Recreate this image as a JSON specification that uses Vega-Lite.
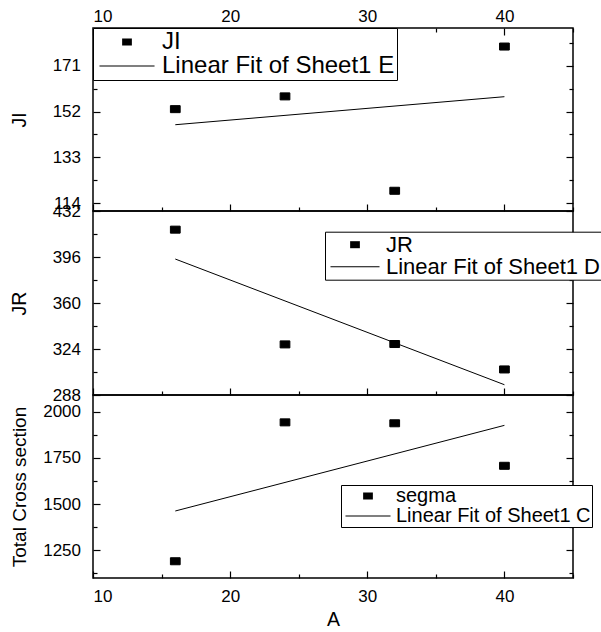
{
  "$schema": "https://vega.github.io/schema/vega-lite/v6.json",
  "background": "white",
  "padding": {"left": 8, "top": 6, "right": 0, "bottom": 4},
  "spacing": 0,
  "bounds": "flush",
  "datasets": {
    "ji": [
      {"A": 16, "JI": 153.0, "series": "JI"},
      {"A": 24, "JI": 158.3, "series": "JI"},
      {"A": 32, "JI": 119.1, "series": "JI"},
      {"A": 40, "JI": 179.0, "series": "JI"}
    ],
    "jr": [
      {"A": 16, "JR": 417.4, "series": "JR"},
      {"A": 24, "JR": 327.6, "series": "JR"},
      {"A": 32, "JR": 327.9, "series": "JR"},
      {"A": 40, "JR": 308.0, "series": "JR"}
    ],
    "segma": [
      {"A": 16, "C": 1190.6, "series": "segma"},
      {"A": 24, "C": 1942.0, "series": "segma"},
      {"A": 32, "C": 1937.0, "series": "segma"},
      {"A": 40, "C": 1707.0, "series": "segma"}
    ]
  },
  "resolve": {
    "scale": {"y": "independent", "shape": "independent"},
    "legend": {"shape": "independent"}
  },
  "vconcat": [
    {
      "width": 480,
      "height": 183,
      "data": {"name": "ji"},
      "layer": [
        {
          "mark": {"type": "point", "filled": false, "fill": "black", "stroke": "black", "strokeWidth": 1, "opacity": 1, "size": 95},
          "encoding": {
            "x": {
              "field": "A", "type": "quantitative",
              "scale": {"domain": [10, 45], "nice": false, "zero": false},
              "axis": {
                "orient": "top", "title": null,
                "values": [10, 15, 20, 25, 30, 35, 40, 45],
                "labelExpr": "datum.value % 10 == 0 ? datum.label : ''",
                "tickSize": {"condition": {"test": "datum.value % 10 == 0", "value": -7}, "value": -4},
                "labelPadding": 10
              }
            },
            "y": {
              "field": "JI", "type": "quantitative",
              "scale": {"domain": [110.7, 186.7], "nice": false, "zero": false},
              "axis": {
                "orient": "left", "title": "JI", "titleX": -68, "titleBaseline": "alphabetic",
                "values": [114, 123.5, 133, 142.5, 152, 161.5, 171, 180.5],
                "labelExpr": "datum.value % 19 == 0 ? datum.label : ''",
                "tickSize": {"condition": {"test": "datum.value % 19 == 0", "value": -7}, "value": -4},
                "labelPadding": 19.5
              }
            },
            "shape": {
              "field": "series", "type": "nominal",
              "scale": {"domain": ["JI", "Linear Fit of Sheet1 E"], "range": ["M-1,-0.72L1,-0.72L1,0.72L-1,0.72Z", "M-5.65,-0.1L5.65,-0.1L5.65,0.1L-5.65,0.1Z"]},
              "legend": {
                "title": null, "legendX": 0, "legendY": 0, "labelFontSize": 24, "padding": 2,
                "symbolOffset": 20, "labelOffset": 23, "rowPadding": -3
              }
            }
          }
        },
        {
          "transform": [{"regression": "JI", "on": "A"}],
          "mark": {"type": "line", "color": "black", "strokeWidth": 1},
          "encoding": {
            "x": {
              "field": "A", "type": "quantitative",
              "axis": {
                "orient": "bottom", "title": null, "labels": false,
                "values": [10, 15, 20, 25, 30, 35, 40, 45],
                "tickSize": {"condition": {"test": "datum.value % 10 == 0", "value": -7}, "value": -4}
              }
            },
            "y": {
              "field": "JI", "type": "quantitative",
              "axis": {
                "orient": "right", "title": null, "labels": false,
                "values": [114, 123.5, 133, 142.5, 152, 161.5, 171, 180.5],
                "tickSize": {"condition": {"test": "datum.value % 19 == 0", "value": -7}, "value": -4}
              }
            }
          }
        }
      ],
      "resolve": {"axis": {"x": "independent", "y": "independent"}}
    },
    {
      "width": 480,
      "height": 184,
      "data": {"name": "jr"},
      "layer": [
        {
          "mark": {"type": "point", "filled": false, "fill": "black", "stroke": "black", "strokeWidth": 1, "opacity": 1, "size": 95},
          "encoding": {
            "x": {
              "field": "A", "type": "quantitative",
              "scale": {"domain": [10, 45], "nice": false, "zero": false},
              "axis": null
            },
            "y": {
              "field": "JR", "type": "quantitative",
              "scale": {"domain": [288, 432], "nice": false, "zero": false},
              "axis": {
                "orient": "left", "title": "JR", "titleX": -68, "titleBaseline": "alphabetic",
                "values": [288, 306, 324, 342, 360, 378, 396, 414, 432],
                "labelExpr": "datum.value % 36 == 0 ? datum.label : ''",
                "tickSize": {"condition": {"test": "datum.value % 36 == 0", "value": -7}, "value": -4},
                "labelPadding": 19.5
              }
            },
            "shape": {
              "field": "series", "type": "nominal",
              "scale": {"domain": ["JR", "Linear Fit of Sheet1 D"], "range": ["M-1,-0.72L1,-0.72L1,0.72L-1,0.72Z", "M-5.03,-0.1L5.03,-0.1L5.03,0.1L-5.03,0.1Z"]},
              "legend": {
                "title": null, "legendX": 232, "legendY": 20.7, "labelFontSize": 22, "padding": 2,
                "symbolOffset": 17, "labelOffset": 20, "rowPadding": -2
              }
            }
          }
        },
        {
          "transform": [{"regression": "JR", "on": "A"}],
          "mark": {"type": "line", "color": "black", "strokeWidth": 1},
          "encoding": {
            "x": {
              "field": "A", "type": "quantitative",
              "axis": {
                "orient": "bottom", "title": null, "labels": false,
                "values": [10, 15, 20, 25, 30, 35, 40, 45],
                "tickSize": {"condition": {"test": "datum.value % 10 == 0", "value": -7}, "value": -4}
              }
            },
            "y": {
              "field": "JR", "type": "quantitative",
              "axis": {
                "orient": "right", "title": null, "labels": false,
                "values": [288, 306, 324, 342, 360, 378, 396, 414, 432],
                "tickSize": {"condition": {"test": "datum.value % 36 == 0", "value": -7}, "value": -4}
              }
            }
          }
        }
      ],
      "resolve": {"axis": {"x": "independent", "y": "independent"}}
    },
    {
      "width": 480,
      "height": 183,
      "data": {"name": "segma"},
      "layer": [
        {
          "mark": {"type": "point", "filled": false, "fill": "black", "stroke": "black", "strokeWidth": 1, "opacity": 1, "size": 95},
          "encoding": {
            "x": {
              "field": "A", "type": "quantitative",
              "scale": {"domain": [10, 45], "nice": false, "zero": false},
              "axis": null
            },
            "y": {
              "field": "C", "type": "quantitative",
              "scale": {"domain": [1100, 2090], "nice": false, "zero": false},
              "axis": {
                "orient": "left", "title": "Total Cross section", "titleX": -68, "titleBaseline": "alphabetic",
                "titleFontSize": 19,
                "values": [1125, 1250, 1375, 1500, 1625, 1750, 1875, 2000],
                "labelExpr": "datum.value % 250 == 0 ? datum.label : ''",
                "format": "d",
                "tickSize": {"condition": {"test": "datum.value % 250 == 0", "value": -7}, "value": -4},
                "labelPadding": 19.5
              }
            },
            "shape": {
              "field": "series", "type": "nominal",
              "scale": {"domain": ["segma", "Linear Fit of Sheet1 C"], "range": ["M-1,-0.72L1,-0.72L1,0.72L-1,0.72Z", "M-4.62,-0.1L4.62,-0.1L4.62,0.1L-4.62,0.1Z"]},
              "legend": {
                "title": null, "legendX": 248, "legendY": 90, "labelFontSize": 20, "padding": 1,
                "symbolOffset": 16, "labelOffset": 18, "rowPadding": -3
              }
            }
          }
        },
        {
          "transform": [{"regression": "C", "on": "A"}],
          "mark": {"type": "line", "color": "black", "strokeWidth": 1},
          "encoding": {
            "x": {
              "field": "A", "type": "quantitative",
              "axis": {
                "orient": "bottom", "title": "A", "titlePadding": 6,
                "values": [10, 15, 20, 25, 30, 35, 40, 45],
                "labelExpr": "datum.value % 10 == 0 ? datum.label : ''",
                "tickSize": {"condition": {"test": "datum.value % 10 == 0", "value": -7}, "value": -4},
                "labelPadding": 17
              }
            },
            "y": {
              "field": "C", "type": "quantitative",
              "axis": {
                "orient": "right", "title": null, "labels": false,
                "values": [1125, 1250, 1375, 1500, 1625, 1750, 1875, 2000],
                "tickSize": {"condition": {"test": "datum.value % 250 == 0", "value": -7}, "value": -4}
              }
            }
          }
        }
      ],
      "resolve": {"axis": {"x": "independent", "y": "independent"}}
    }
  ],
  "config": {
    "font": "Liberation Sans",
    "view": {"stroke": "black", "strokeWidth": 1.5},
    "axis": {
      "domain": false, "grid": false, "ticks": true,
      "tickColor": "black", "tickWidth": 1.2,
      "labelColor": "black", "labelFont": "Liberation Sans", "labelFontSize": 17,
      "titleFont": "Liberation Sans", "titleFontSize": 19.5, "titleFontWeight": "normal", "titleColor": "black"
    },
    "legend": {
      "orient": "none",
      "labelFont": "Liberation Sans", "labelColor": "black", "labelLimit": 500,
      "strokeColor": "black", "strokeWidth": 1, "fillColor": "white",
      "symbolFillColor": "black", "symbolStrokeColor": "black", "symbolStrokeWidth": 1,
      "symbolSize": 95
    }
  }
}
